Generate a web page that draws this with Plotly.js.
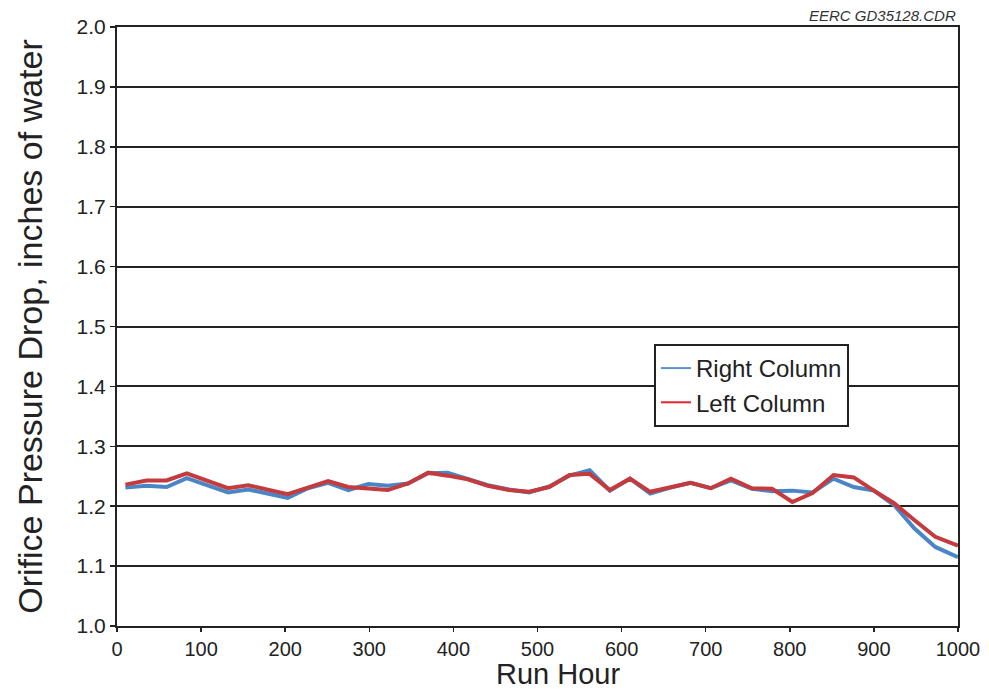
<!DOCTYPE html>
<html>
<head>
<meta charset="utf-8">
<script src="https://cdn.plot.ly/plotly-3.0.1.min.js"></script>
<style>html,body{margin:0;padding:0;background:#fff;}#chart{width:989px;height:693px;}</style>
</head>
<body>
<div id="chart"></div>
<script>
const runHours = [10,35,59,83,132,156,203,227,251,275,299,322,346,370,393,417,441,466,490,514,538,562,586,610,634,658,682,706,730,755,779,803,827,852,876,900,924,948,973,1000];
const rightColumn = [1.231,1.234,1.232,1.247,1.223,1.228,1.214,1.230,1.239,1.227,1.237,1.234,1.238,1.255,1.256,1.246,1.235,1.228,1.223,1.233,1.251,1.260,1.226,1.246,1.221,1.231,1.239,1.230,1.243,1.229,1.225,1.226,1.223,1.246,1.232,1.226,1.202,1.163,1.132,1.115];
const leftColumn = [1.236,1.243,1.243,1.255,1.230,1.235,1.220,1.231,1.242,1.232,1.230,1.227,1.238,1.256,1.251,1.245,1.234,1.227,1.224,1.232,1.252,1.254,1.227,1.246,1.224,1.232,1.239,1.230,1.246,1.230,1.229,1.207,1.222,1.252,1.248,1.226,1.205,1.177,1.149,1.134];
const yTicks = [1.0,1.1,1.2,1.3,1.4,1.5,1.6,1.7,1.8,1.9,2.0];
const xTicks = [0,100,200,300,400,500,600,700,800,900,1000];
const seriesNames = ['Right Column','Left Column'];
const blue = '#4a86c5', red = '#c43a3d';

const traces = [
  {x: runHours, y: rightColumn, type:'scatter', mode:'lines', line:{color:blue, width:4}, showlegend:false, hoverinfo:'skip'},
  {x: runHours, y: leftColumn, type:'scatter', mode:'lines', line:{color:red, width:4}, showlegend:false, hoverinfo:'skip'},
  {x:[null], y:[null], type:'scatter', mode:'lines', name:seriesNames[0], line:{color:'#5b8fd0', width:2}},
  {x:[null], y:[null], type:'scatter', mode:'lines', name:seriesNames[1], line:{color:'#e0262b', width:2}}
];

const layout = {
  width:989, height:693,
  margin:{l:117, r:31, t:27, b:67},
  paper_bgcolor:'#fff', plot_bgcolor:'#fff',
  font:{family:'Arial, Liberation Sans, sans-serif', color:'#222'},
  showlegend:true,
  legend:{x:0.6385, y:0.4708, xanchor:'left', yanchor:'top', bgcolor:'#fff', bordercolor:'#222', borderwidth:2,
    font:{size:24, color:'#222'}, tracegroupgap:0},
  xaxis:{range:[0,1000], tickvals:xTicks, ticktext:xTicks.map(String), ticks:'outside', ticklen:4, tickwidth:1.5, tickcolor:'#222',
    showgrid:false, zeroline:false, showline:true, linecolor:'#222', linewidth:2, mirror:true,
    tickfont:{size:20, color:'#222'}},
  yaxis:{range:[1.0,2.0], tickvals:yTicks, ticktext:yTicks.map(v=>v.toFixed(1)), ticks:'outside', ticklen:5, tickwidth:1.5, tickcolor:'#222',
    showgrid:true, gridcolor:'#222', gridwidth:2, zeroline:false, showline:true, linecolor:'#222', linewidth:2, mirror:true,
    tickfont:{size:21, color:'#222'},
    title:{text:'Orifice Pressure Drop, inches of water', font:{size:34, color:'#222'}, standoff:24}},
  annotations:[
    {text:'<i>EERC GD35128.CDR</i>', xref:'paper', yref:'paper', x:1, y:1, xanchor:'right', yanchor:'bottom', yshift:1, showarrow:false, font:{size:15, color:'#333'}},
    {text:'Run Hour', xref:'x', yref:'paper', x:524, y:0, xanchor:'center', yanchor:'bottom', yshift:-66, showarrow:false, font:{size:29, color:'#222'}}
  ]
};
Plotly.newPlot('chart', traces, layout, {displayModeBar:false, staticPlot:true});
</script>
</body>
</html>
